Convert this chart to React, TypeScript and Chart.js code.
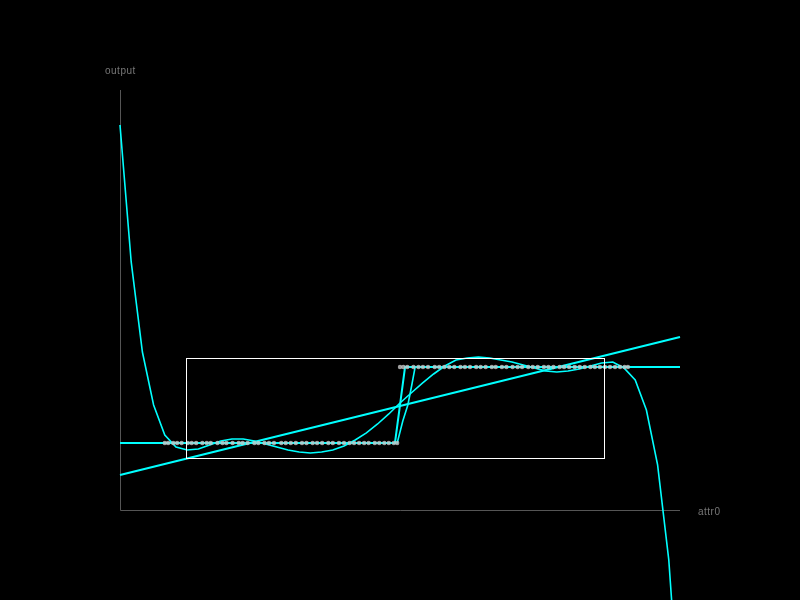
import { useEffect, useRef } from "react";
import { Chart, registerables } from "chart.js";

Chart.register(...registerables);

// x axis: attr0 (0..10), y axis: output
const xLabel = "attr0";
const yLabel = "output";

const polyX = [
  0, 0.2, 0.4, 0.6, 0.8, 1.0, 1.2, 1.4, 1.6, 1.8,
  2.0, 2.2, 2.4, 2.6, 2.8, 3.0, 3.2, 3.4, 3.6, 3.8,
  4.0, 4.2, 4.4, 4.6, 4.8, 5.0, 5.2, 5.4, 5.6, 5.8,
  6.0, 6.2, 6.4, 6.6, 6.8, 7.0, 7.2, 7.4, 7.6, 7.8,
  8.0, 8.2, 8.4, 8.6, 8.8, 9.0, 9.2, 9.4, 9.6, 9.8, 10.0,
];
const polyY = [
  4.184, 2.382, 1.197, 0.5, 0.105, -0.053, -0.092, -0.079, -0.026, 0.026,
  0.053, 0.053, 0.026, -0.013, -0.053, -0.092, -0.118, -0.132, -0.118, -0.092,
  -0.039, 0.039, 0.132, 0.25, 0.382, 0.526, 0.658, 0.789, 0.908, 1.013,
  1.092, 1.118, 1.132, 1.118, 1.092, 1.066, 1.026, 0.987, 0.947, 0.934,
  0.947, 0.974, 1.013, 1.053, 1.066, 0.987, 0.829, 0.434, -0.289, -1.539, -3.645,
];

const linearX = [0, 10];
const linearY = [-0.421, 1.395];

const stepAX = [0, 4.91, 5.09, 10];
const stepAY = [0, 0, 1, 1];

const stepBX = [0, 4.95, 5.05, 5.14, 5.21, 5.27, 10];
const stepBY = [0, 0, 0.29, 0.5, 0.76, 1, 1];

const lowX = [
  0.80, 0.86, 0.95, 1.02, 1.10, 1.21, 1.28, 1.36, 1.47, 1.55, 1.62, 1.74,
  1.83, 1.90, 2.01, 2.12, 2.19, 2.28, 2.40, 2.47, 2.58, 2.66, 2.75, 2.88,
  2.96, 3.05, 3.14, 3.25, 3.33, 3.44, 3.52, 3.61, 3.72, 3.80, 3.91, 4.00,
  4.10, 4.18, 4.27, 4.36, 4.44, 4.55, 4.63, 4.72, 4.80, 4.89, 4.95,
];
const highX = [
  5.00, 5.06, 5.13, 5.24, 5.33, 5.41, 5.50, 5.62, 5.70, 5.79, 5.88, 5.97,
  6.08, 6.16, 6.25, 6.36, 6.44, 6.53, 6.64, 6.71, 6.82, 6.90, 7.01, 7.10,
  7.18, 7.29, 7.37, 7.46, 7.57, 7.65, 7.74, 7.85, 7.93, 8.02, 8.12, 8.21,
  8.30, 8.40, 8.48, 8.57, 8.66, 8.75, 8.84, 8.93, 9.01, 9.07,
];
const lowValue = 0;
const highValue = 1;

// selection rectangle in data units
const rectX = [1.179, 8.643];
const rectY = [-0.197, 1.118];

const xRange = [0, 10];
const yRange = [-0.8816, 4.6447];

const zip = (xs: number[], ys: number[]) => xs.map((x, i) => ({ x, y: ys[i] }));

export default function App() {
  const ref = useRef<HTMLCanvasElement>(null);

  useEffect(() => {
    document.body.style.margin = "0";
    document.body.style.background = "#000";

    const decor = {
      id: "decor",
      beforeDraw(chart: any) {
        const c = chart.ctx;
        c.save();
        c.fillStyle = "#000";
        c.fillRect(0, 0, chart.width, chart.height);
        c.restore();
      },
      beforeDatasetsDraw(chart: any) {
        const c = chart.ctx;
        const a = chart.chartArea;
        c.save();
        c.strokeStyle = "#555";
        c.lineWidth = 1;
        c.beginPath();
        c.moveTo(a.left + 0.5, a.top);
        c.lineTo(a.left + 0.5, a.bottom + 0.5);
        c.lineTo(a.right, a.bottom + 0.5);
        c.stroke();
        c.fillStyle = "#777";
        c.font = "10px 'Liberation Sans', Arial, sans-serif";
        try {
          (c as any).letterSpacing = "0.5px";
        } catch (e) {}
        c.textBaseline = "middle";
        c.textAlign = "left";
        c.fillText(yLabel, a.left - 15, a.top - 19);
        c.fillText(xLabel, a.right + 18, a.bottom + 2);
        c.restore();
      },
      afterDatasetsDraw(chart: any) {
        const c = chart.ctx;
        const xs = chart.scales.x;
        const ys = chart.scales.y;
        const x1 = Math.round(xs.getPixelForValue(rectX[0])) + 0.5;
        const x2 = Math.round(xs.getPixelForValue(rectX[1])) + 0.5;
        const y1 = Math.round(ys.getPixelForValue(rectY[1])) + 0.5;
        const y2 = Math.round(ys.getPixelForValue(rectY[0])) + 0.5;
        c.save();
        c.strokeStyle = "#fff";
        c.lineWidth = 1;
        c.strokeRect(x1, y1, x2 - x1, y2 - y1);
        c.restore();
      },
    };

    const cyan = "#00ffff";
    const lineBase = {
      borderColor: cyan,
      borderWidth: 2,
      pointRadius: 0,
      tension: 0,
      fill: false,
      clip: false as any,
    };

    const chart = new Chart(ref.current!, {
      type: "line",
      data: {
        datasets: [
          {
            ...lineBase,
            label: "points",
            data: [
              ...lowX.map((x) => ({ x, y: lowValue })),
              ...highX.map((x) => ({ x, y: highValue })),
            ],
            showLine: false,
            pointRadius: 2.2,
            pointBackgroundColor: "rgba(200,200,200,0.8)",
            pointBorderWidth: 0,
            order: 0,
          } as any,
          { ...lineBase, label: "poly", borderWidth: 1.6, data: zip(polyX, polyY), order: 1 },
          { ...lineBase, label: "linear", borderWidth: 2.2, data: zip(linearX, linearY), order: 2 },
          { ...lineBase, label: "stepA", data: zip(stepAX, stepAY), order: 3 },
          { ...lineBase, label: "stepB", borderWidth: 1.6, data: zip(stepBX, stepBY), order: 4 },
        ],
      },
      options: {
        responsive: false,
        devicePixelRatio: 1,
        animation: false,
        layout: { padding: { left: 120, right: 120, top: 90, bottom: 90 } },
        plugins: { legend: { display: false }, tooltip: { enabled: false } },
        events: [],
        scales: {
          x: { type: "linear", min: xRange[0], max: xRange[1], display: false },
          y: { type: "linear", min: yRange[0], max: yRange[1], display: false },
        },
      },
      plugins: [decor],
    });
    return () => chart.destroy();
  }, []);

  return (
    <canvas
      ref={ref}
      width={800}
      height={600}
      style={{ display: "block", width: 800, height: 600, background: "#000" }}
    />
  );
}
